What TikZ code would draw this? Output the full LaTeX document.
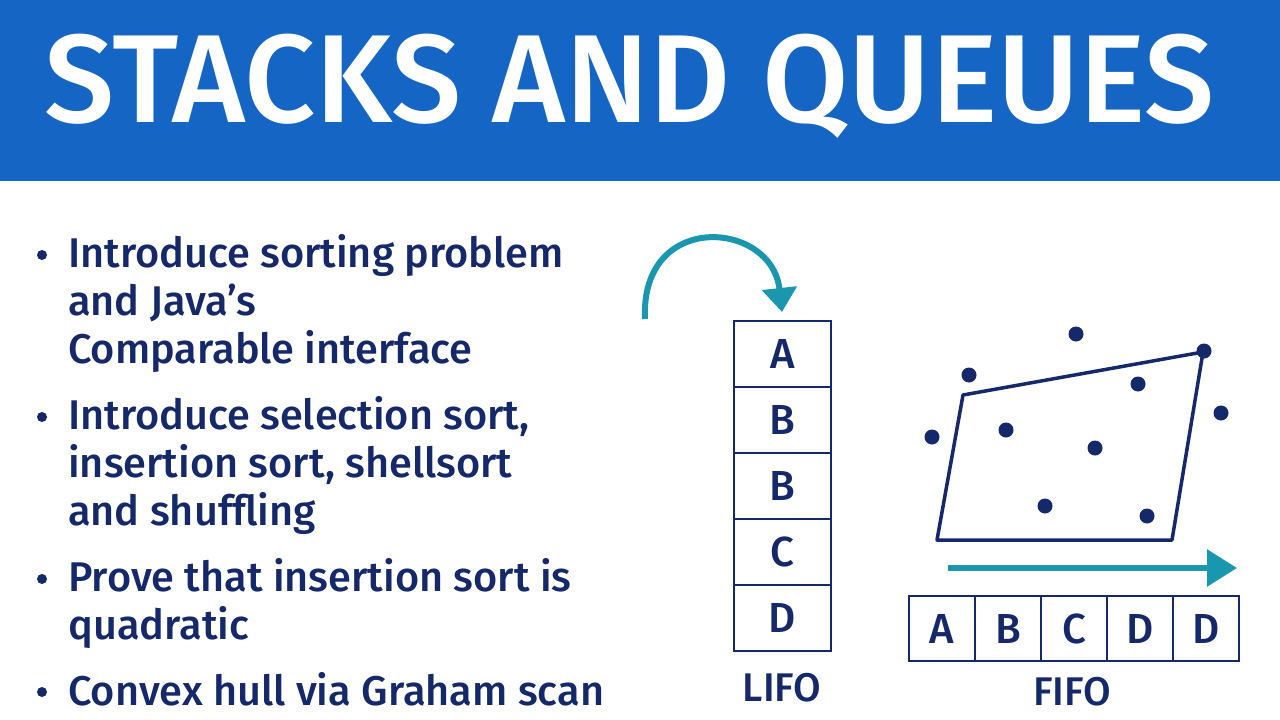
\documentclass[tikz,border=0pt]{standalone}
\usepackage{fontspec}
\setmainfont{Fira Sans Medium}
\newfontfamily\medf{Fira Sans Medium}
\usetikzlibrary{arrows.meta}
\definecolor{tblue}{HTML}{1565C4}
\definecolor{navy}{HTML}{14286A}
\definecolor{teal}{HTML}{1A96AE}
\tikzset{cell/.style={draw=navy,line width=2.5pt,minimum width=97pt,minimum height=66pt,inner sep=0pt,font=\medf\fontsize{42}{42}\selectfont,text=navy},
qcell/.style={draw=navy,line width=2.5pt,minimum width=66pt,minimum height=65pt,inner sep=0pt,font=\medf\fontsize{42}{42}\selectfont,text=navy},
bl/.style={anchor=north west,text=navy,font=\medf\fontsize{41.5}{48}\selectfont,align=left,inner sep=0pt},
dot/.style={circle,fill=navy,inner sep=0pt,minimum size=15pt}}
\begin{document}
\begin{tikzpicture}[x=1pt,y=-1pt]
\useasboundingbox (0,0) rectangle (1280,720);
\fill[white] (0,0) rectangle (1280,720);
\fill[tblue] (0,0) rectangle (1281,181);
\node[text=white,inner sep=0pt] (title) at (630,86) {\resizebox{1170pt}{!}{\medf\fontsize{110}{110}\selectfont STACKS AND QUEUES}};
% bullets
\foreach \y in {255,417,579,692}{\fill[navy] (42,\y) circle (5pt);}
\node[bl] (t1) at (68,234) {Introduce sorting problem\\and Java’s\\Comparable interface};
\node[bl] (t2) at (68,396) {Introduce selection sort,\\insertion sort, shellsort\\and shuffling};
\node[bl] (t3) at (68,558) {Prove that insertion sort is\\quadratic};
\node[bl] (t4) at (68,672) {Convex hull via Graham scan};
% stack
\foreach \l [count=\i] in {A,B,B,C,D}{\node[cell] (s\i) at (782.5,321+66*\i-33) {\l};}
\node[text=navy,font=\medf\fontsize{40}{40}\selectfont] (lifo) at (782,688) {LIFO};
\coordinate (as) at (645,319);
\draw[teal,line width=6pt,-{Triangle[length=24pt,width=34pt]}] (as) .. controls (640,210) and (772,220) .. (782,312);
% queue
\foreach \l [count=\i] in {A,B,C,D,D}{\node[qcell] (q\i) at (909+66*\i-33,628.5) {\l};}
\node[text=navy,font=\medf\fontsize{40}{40}\selectfont] (fifo) at (1072,692) {FIFO};
\coordinate (qa) at (948,568); \coordinate (qb) at (1237,568);
\draw[teal,line width=6pt,-{Triangle[length=30pt,width=36pt]}] (qa) -- (qb);
% hull
\draw[navy,line width=3.5pt,line join=round] (963,395) -- (1203,352) -- (1172,540) -- (937,540) -- cycle;
\foreach \p in {(969,375),(1076,334),(1204,351),(1138,384),(1221,413),(932,437),(1006,430),(1095,448),(1045,506),(1147,516)}{\node[dot] at \p {};}
\end{tikzpicture}
\end{document}
